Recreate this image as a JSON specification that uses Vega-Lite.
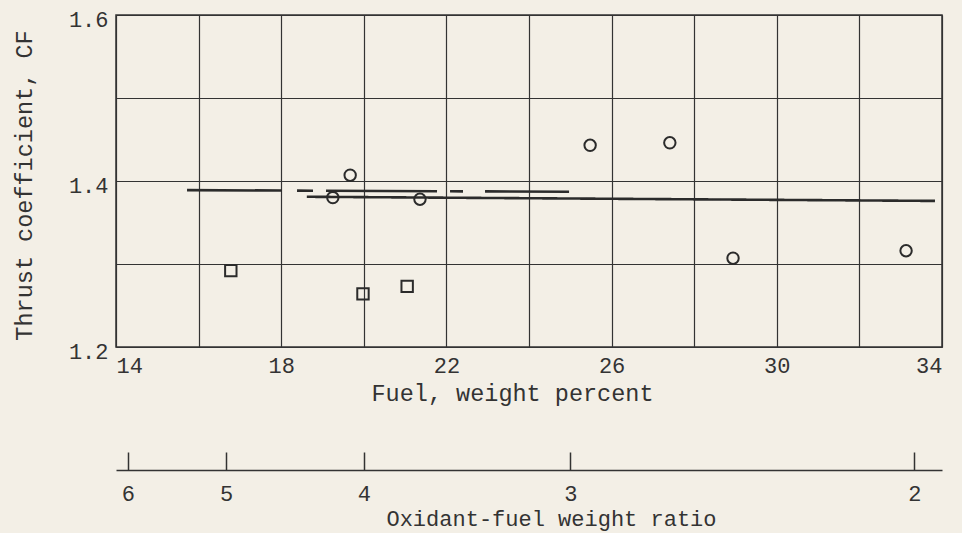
{
  "$schema": "https://vega.github.io/schema/vega-lite/v6.json",
  "autosize": {"type": "none"},
  "width": 826,
  "height": 332,
  "padding": {"left": 116, "top": 15, "right": 20, "bottom": 186},
  "background": "#f3efe6",
  "datasets": {
    "points": [
      {"fuel": 19.67, "cf": 1.407, "sym": "circle"},
      {"fuel": 19.25, "cf": 1.380, "sym": "circle"},
      {"fuel": 21.36, "cf": 1.378, "sym": "circle"},
      {"fuel": 25.48, "cf": 1.443, "sym": "circle"},
      {"fuel": 27.41, "cf": 1.446, "sym": "circle"},
      {"fuel": 28.94, "cf": 1.307, "sym": "circle"},
      {"fuel": 33.13, "cf": 1.316, "sym": "circle"},
      {"fuel": 16.78, "cf": 1.292, "sym": "square"},
      {"fuel": 19.98, "cf": 1.264, "sym": "square"},
      {"fuel": 21.05, "cf": 1.273, "sym": "square"}
    ],
    "lines": [
      {"fuel": 18.62, "cf": 1.381, "style": "solid"},
      {"fuel": 33.83, "cf": 1.376, "style": "solid"},
      {"fuel": 15.72, "cf": 1.389, "style": "dashed"},
      {"fuel": 24.97, "cf": 1.387, "style": "dashed"}
    ],
    "ratioTicks": [
      {"ratio": 6, "fuel": 14.2857},
      {"ratio": 5, "fuel": 16.6667},
      {"ratio": 4, "fuel": 20},
      {"ratio": 3, "fuel": 25},
      {"ratio": 2, "fuel": 33.3333}
    ]
  },
  "config": {
    "font": "Liberation Mono",
    "view": {"stroke": "#333", "strokeWidth": 1.5},
    "axis": {
      "labelFont": "Liberation Mono",
      "titleFont": "Liberation Mono",
      "labelColor": "#333",
      "titleColor": "#333",
      "titleFontWeight": "normal",
      "labelFontSize": 22,
      "titleFontSize": 23.5,
      "gridColor": "#333",
      "gridOpacity": 1,
      "gridWidth": 1.2,
      "domainColor": "#333",
      "tickColor": "#333"
    }
  },
  "layer": [
    {
      "layer": [
        {
          "data": {"name": "lines"},
          "mark": {"type": "line", "color": "#2b2b2b", "strokeWidth": 2.6},
          "encoding": {
            "x": {
              "field": "fuel", "type": "quantitative",
              "scale": {"domain": [14, 34], "nice": false, "zero": false},
              "axis": {
                "orient": "bottom",
                "title": "Fuel, weight percent",
                "values": [14, 16, 18, 20, 22, 24, 26, 28, 30, 32, 34],
                "labelExpr": "datum.value % 4 == 0 ? '' : datum.label",
                "grid": true, "ticks": false, "domain": false,
                "labelPadding": 8, "titlePadding": 5, "titleX": 396
              }
            },
            "y": {
              "field": "cf", "type": "quantitative",
              "scale": {"domain": [1.2, 1.6], "nice": false, "zero": false},
              "axis": {
                "title": "Thrust coefficient, CF",
                "titleY": 170,
                "values": [1.2, 1.3, 1.4, 1.5, 1.6],
                "labelExpr": "round(datum.value * 10) % 2 == 1 ? '' : format(datum.value, '.1f')",
                "grid": true, "ticks": false, "domain": false,
                "labelPadding": 8, "labelOffset": 4, "titlePadding": 32
              }
            },
            "detail": {"field": "style"},
            "strokeDash": {
              "field": "style", "type": "nominal",
              "scale": {"domain": ["solid", "dashed"], "range": [[1, 0], [95, 15, 16, 13, 111, 13, 13, 22, 90]]},
              "legend": null
            }
          }
        },
        {
          "data": {"name": "points"},
          "mark": {"type": "point", "filled": false, "color": "#2b2b2b", "strokeWidth": 2, "opacity": 1},
          "encoding": {
            "x": {"field": "fuel", "type": "quantitative"},
            "y": {"field": "cf", "type": "quantitative"},
            "shape": {
              "field": "sym", "type": "nominal",
              "scale": {"domain": ["circle", "square"], "range": ["circle", "square"]},
              "legend": null
            },
            "size": {"value": 130}
          }
        }
      ]
    },
    {
      "data": {"name": "ratioTicks"},
      "mark": {"type": "rule", "opacity": 0},
      "encoding": {
        "x": {
          "field": "fuel", "type": "quantitative",
          "scale": {"domain": [14, 34], "nice": false, "zero": false},
          "axis": {
            "orient": "bottom",
            "offset": 123,
            "title": "Oxidant-fuel weight ratio",
            "titleFontSize": 22,
            "values": [14.2857, 16.6667, 20, 25, 33.3333],
            "labelExpr": "format(100 / datum.value - 1, '.0f')",
            "labelFlush": false,
            "grid": false,
            "ticks": true, "tickSize": -18, "tickWidth": 1.5,
            "domain": true, "domainWidth": 1.5,
            "labelPadding": 31, "titlePadding": 4, "titleX": 435
          }
        }
      }
    }
  ],
  "resolve": {"scale": {"x": "independent"}, "axis": {"x": "independent"}}
}
